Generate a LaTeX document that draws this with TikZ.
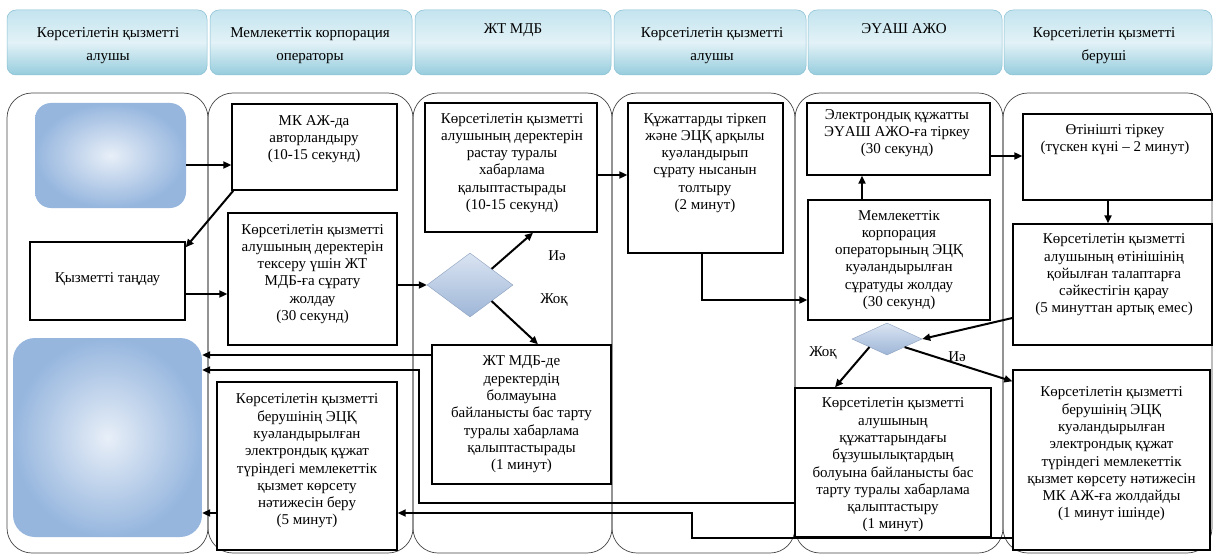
\documentclass[tikz,border=0pt]{standalone}
\usepackage{fontspec}
\setmainfont{Liberation Serif}
\usetikzlibrary{arrows.meta,shapes.geometric}
\definecolor{hdrT}{RGB}{196,228,239}
\definecolor{hdrM}{RGB}{226,242,247}
\definecolor{hdrB}{RGB}{150,204,221}
\definecolor{hdrE}{RGB}{136,192,211}
\definecolor{stIn}{RGB}{232,239,248}
\definecolor{stOut}{RGB}{150,182,222}
\definecolor{dmT}{RGB}{218,228,242}
\definecolor{dmB}{RGB}{158,182,215}
\definecolor{dmE}{RGB}{140,160,190}
\definecolor{laneC}{RGB}{70,70,70}
\begin{document}
\begin{tikzpicture}[x=1pt,y=-1pt,
  hdr/.style={draw=hdrE, line width=0.5pt, rounded corners=9pt, top color=hdrT, bottom color=hdrB, middle color=hdrM, minimum height=65pt, inner sep=0pt},
  htxt/.style={font=\fontsize{15}{23}\selectfont, align=center, inner sep=0pt, anchor=north},
  txt/.style={font=\fontsize{15}{17.3}\selectfont, align=center, inner sep=0pt},
  box/.style={draw=black, line width=1.4pt, fill=white, inner sep=0pt},
  lane/.style={draw=laneC, line width=0.7pt, rounded corners=25pt},
  arr/.style={line width=2pt, -{Triangle[length=8pt,width=7pt]}},
  term/.style={inner sep=0pt, inner color=stIn, outer color=stOut},
  dec/.style={diamond, inner sep=0pt, top color=dmT, bottom color=dmB, draw=dmE, line width=0.4pt}]
\fill[white] (0,0) rectangle (1214,556);
\useasboundingbox (0,0) rectangle (1214,556);

% headers
\node[hdr, minimum width=200pt] (h1) at (107,42.5) {};
\node[hdr, minimum width=202pt] (h2) at (311,42.5) {};
\node[hdr, minimum width=196pt] (h3) at (513,42.5) {};
\node[hdr, minimum width=192pt] (h4) at (710,42.5) {};
\node[hdr, minimum width=194pt] (h5) at (905,42.5) {};
\node[hdr, minimum width=208pt] (h6) at (1108,42.5) {};
\node[htxt] (ht1) at (108,27.5) {Көрсетілетін қызметті\\алушы};
\node[htxt] (ht2) at (310,27.5) {Мемлекеттік корпорация\\операторы};
\node[htxt] (ht3) at (513,23) {ЖТ МДБ};
\node[htxt] (ht4) at (712,27.5) {Көрсетілетін қызметті\\алушы};
\node[htxt] (ht5) at (904,23) {ЭҮАШ АЖО};
\node[htxt] (ht6) at (1104,27.5) {Көрсетілетін қызметті\\беруші};

% lanes
\draw[lane] (7,93) rectangle (208,553);
\draw[lane] (208,93) rectangle (413,553);
\draw[lane] (413,93) rectangle (612,553);
\draw[lane] (612,93) rectangle (795,553);
\draw[lane] (795,93) rectangle (1003,553);
\draw[lane] (1003,93) rectangle (1212,553);

% terminals
\node[term, rounded corners=16pt, minimum width=151pt, minimum height=105pt] (start) at (110.5,155.5) {};
\node[term, rounded corners=22pt, minimum width=189pt, minimum height=199pt] (endb) at (107.5,437.5) {};

% boxes
\node[box, minimum width=165pt, minimum height=86pt] (mk) at (314.5,147) {};
\node[box, minimum width=155pt, minimum height=78pt] (sel) at (107.5,281) {};
\node[box, minimum width=169pt, minimum height=132pt] (req) at (312.5,279) {};
\node[box, minimum width=172pt, minimum height=129pt] (conf) at (511,167.5) {};
\node[dec, minimum width=86pt, minimum height=64pt] (d1) at (470,285) {};
\node[box, minimum width=179pt, minimum height=139pt] (no1) at (521.5,414.5) {};
\node[box, minimum width=155pt, minimum height=150pt] (fil) at (705.5,178) {};
\node[box, minimum width=183pt, minimum height=72pt] (reg) at (898.5,139) {};
\node[box, minimum width=182pt, minimum height=120pt] (send) at (899,260) {};
\node[box, minimum width=189pt, minimum height=86pt] (app) at (1117.5,157) {};
\node[box, minimum width=199pt, minimum height=121pt] (chk) at (1112.5,284.5) {};
\node[dec, minimum width=70pt, minimum height=32pt] (d2) at (887,339) {};
\node[box, minimum width=196pt, minimum height=149pt] (rej) at (893,462.5) {};
\node[box, minimum width=197pt, minimum height=180pt] (res) at (1111.5,460) {};
\node[box, minimum width=180pt, minimum height=168pt] (give) at (307,466) {};

% texts
\node[txt] (tmk) at (314,139) {МК АЖ-да\\авторландыру\\(10-15 секунд)};
\node[txt] (tsel) at (107.5,279) {Қызметті таңдау};
\node[txt] (treq) at (312.5,274) {Көрсетілетін қызметті\\алушының деректерін\\тексеру үшін ЖТ\\МДБ-ға сұрату\\жолдау\\(30 секунд)};
\node[txt] (tconf) at (512,163) {Көрсетілетін қызметті\\алушының деректерін\\растау туралы\\хабарлама\\қалыптастырады\\(10-15 секунд)};
\node[txt] (tno1) at (521.5,414.5) {ЖТ МДБ-де\\деректердің\\болмауына\\байланысты бас тарту\\туралы хабарлама\\қалыптастырады\\(1 минут)};
\node[txt] (tfil) at (705,163) {Құжаттарды тіркеп\\және ЭЦҚ арқылы\\куәландырып\\сұрату нысанын\\толтыру\\(2 минут)};
\node[txt] (treg) at (897,133) {Электрондық құжатты\\ЭҮАШ АЖО-ға тіркеу\\(30 секунд)};
\node[txt] (tsend) at (899,260) {Мемлекеттік\\корпорация\\операторының ЭЦҚ\\куәландырылған\\сұратуды жолдау\\(30 секунд)};
\node[txt] (tapp) at (1115,140) {Өтінішті тіркеу\\(түскен күні – 2 минут)};
\node[txt] (tchk) at (1114,275) {Көрсетілетін қызметті\\алушының өтінішінің\\қойылған талаптарға\\сәйкестігін қарау\\(5 минуттан артық емес)};
\node[txt] (trej) at (893,465) {Көрсетілетін қызметті\\алушының\\құжаттарындағы\\бұзушылықтардың\\болуына байланысты бас\\тарту туралы хабарлама\\қалыптастыру\\(1 минут)};
\node[txt] (tres) at (1111.5,454) {Көрсетілетін қызметті\\берушінің ЭЦҚ\\куәландырылған\\электрондық құжат\\түріндегі мемлекеттік\\қызмет көрсету нәтижесін\\МК АЖ-ға жолдайды\\(1 минут ішінде)};
\node[txt] (tgive) at (307,461) {Көрсетілетін қызметті\\берушінің ЭЦҚ\\куәландырылған\\электрондық құжат\\түріндегі мемлекеттік\\қызмет көрсету\\нәтижесін беру\\(5 минут)};

% labels
\node[txt] (yes1) at (557,256) {Иә};
\node[txt] (nol1) at (554,300) {Жоқ};
\node[txt] (nol2) at (823,353) {Жоқ};
\node[txt] (yes2) at (957,357) {Иә};

% connectors
\draw[arr] ([yshift=-9.5pt]start.east) -- ([yshift=-9.5pt]start.east -| mk.west);
\draw[arr] ([xshift=2pt]mk.south west) -- ([yshift=-6pt]sel.north east);
\draw[arr] ([yshift=-13pt]sel.east) -- ([yshift=-13pt]sel.east -| req.west);
\draw[arr] (req.east |- d1.west) -- (d1.west);
\draw[arr] (d1.north east) -- ([xshift=22pt]conf.south);
\draw[arr] (d1.south east) -- ([xshift=16.5pt]no1.north);
\draw[arr] ([yshift=-7.5pt]conf.east) -- ([yshift=-7.5pt]conf.east -| fil.west);
\draw[arr] ([xshift=-4pt]fil.south) |- ([yshift=-40pt]send.west);
\draw[arr] ([xshift=-37pt]send.north) -- ([xshift=-37pt]send.north |- reg.south);
\draw[arr] ([yshift=-17pt]reg.east) -- ([yshift=-17pt]reg.east -| app.west);
\draw[arr] ([xshift=-9.5pt]app.south) -- ([xshift=-9.5pt]app.south |- chk.north);
\draw[arr] ([yshift=-33.5pt]chk.west) -- (d2.east);
\draw[arr] (d2.south west) -- ([xshift=-58pt]rej.north);
\draw[arr] (d2.south east) -- ([yshift=-12pt]res.north west);
\draw[arr] ([yshift=59.5pt]no1.west) -- ([yshift=59.5pt]no1.west -| endb.east);
\draw[arr] ([yshift=-40.5pt]rej.west) -- ++(-375,0) |- ([yshift=67.5pt]endb.east);
\draw[arr] ([yshift=-78pt]res.west) -- ++(-320,0) |- ([yshift=-47pt]give.east);
\draw[arr] ([yshift=-47pt]give.west) -- ([yshift=-47pt]give.west -| endb.east);
\end{tikzpicture}
\end{document}
